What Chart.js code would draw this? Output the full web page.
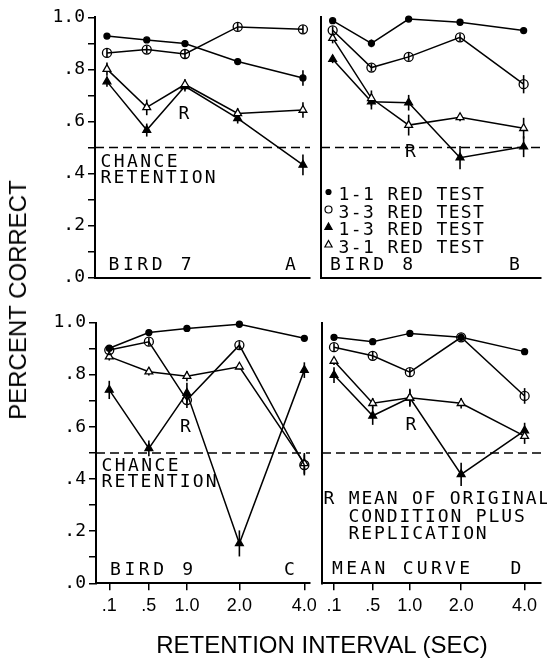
<!DOCTYPE html>
<html>
<head>
<meta charset="utf-8">
<script src="https://cdn.jsdelivr.net/npm/chart.js@4.4.1/dist/chart.umd.min.js"></script>
<style>
  body { margin: 0; background: #fff; }
  #fig { position: relative; width: 547px; height: 659px; overflow: hidden; }
  #fig canvas { position: absolute; left: 0; top: 0; }
  .title { position: absolute; font-family: 'Liberation Sans', Arial, sans-serif; font-size: 24px; color: #000; white-space: nowrap; line-height: 1; }
  #ytitle { left: 18px; top: 300px; transform: translate(-50%, -50%) rotate(-90deg); }
  #xtitle { left: 322px; top: 645px; transform: translate(-50%, -50%); }
</style>
</head>
<body>
<div id="fig">
  <canvas id="panelA" width="547" height="659"></canvas>
  <canvas id="panelB" width="547" height="659"></canvas>
  <canvas id="panelC" width="547" height="659"></canvas>
  <canvas id="panelD" width="547" height="659"></canvas>
  <div id="ytitle" class="title">PERCENT CORRECT</div>
  <div id="xtitle" class="title">RETENTION INTERVAL (SEC)</div>
</div>
<script>
// retention intervals (tick labels) and percent-correct ticks
const INTERVALS = ['.1', '.5', '1.0', '2.0', '4.0'];
const Y_LABELS = ['.0', '.2', '.4', '.6', '.8', '1.0'];
const CHANCE = 0.5;
const LEGEND_NAMES = ['1-1 RED TEST', '3-3 RED TEST', '1-3 RED TEST', '3-1 RED TEST'];

// bird 7 (panel A)
const bird7_11 = [0.928, 0.913, 0.899, 0.830, 0.767];
const bird7_33 = [0.863, 0.876, 0.859, 0.963, 0.954];
const bird7_13 = [0.753, 0.567, 0.735, 0.612, 0.433];
const bird7_31 = [0.801, 0.654, 0.742, 0.631, 0.644];
const bird7_11_err = [0, 0, 0, 0, 0.03];
const bird7_33_err = [0.015, 0.015, 0.015, 0.015, 0.015];
const bird7_13_err = [0.02, 0.025, 0.02, 0.02, 0.04];
const bird7_31_err = [0.025, 0.03, 0.02, 0.02, 0.03];

// bird 8 (panel B)
const bird8_11 = [0.987, 0.900, 0.993, 0.981, 0.949];
const bird8_33 = [0.950, 0.807, 0.848, 0.923, 0.743];
const bird8_13 = [0.839, 0.676, 0.672, 0.461, 0.503];
const bird8_31 = [0.920, 0.689, 0.586, 0.616, 0.574];
const bird8_11_err = [0, 0.015, 0, 0, 0];
const bird8_33_err = [0.015, 0.015, 0.015, 0.015, 0.035];
const bird8_13_err = [0.015, 0.03, 0.03, 0.045, 0.04];
const bird8_31_err = [0.02, 0.03, 0.04, 0.015, 0.04];

// bird 9 (panel C)
const bird9_11 = [0.902, 0.962, 0.978, 0.994, 0.940];
const bird9_33 = [0.895, 0.927, 0.703, 0.914, 0.454];
const bird9_13 = [0.742, 0.518, 0.730, 0.153, 0.818];
const bird9_31 = [0.870, 0.812, 0.795, 0.831, 0.460];
const bird9_11_err = [0, 0, 0, 0, 0];
const bird9_33_err = [0.015, 0.015, 0.03, 0.015, 0.04];
const bird9_13_err = [0.035, 0.03, 0.04, 0.05, 0.03];
const bird9_31_err = [0.015, 0.015, 0.02, 0.01, 0.04];

// mean curve (panel D)
const mean_11 = [0.944, 0.927, 0.959, 0.944, 0.889];
const mean_33 = [0.906, 0.873, 0.810, 0.944, 0.719];
const mean_13 = [0.799, 0.643, 0.712, 0.418, 0.586];
const mean_31 = [0.853, 0.691, 0.712, 0.691, 0.565];
const mean_11_err = [0, 0, 0, 0, 0];
const mean_33_err = [0.015, 0.015, 0.015, 0.015, 0.03];
const mean_13_err = [0.03, 0.035, 0.035, 0.045, 0.03];
const mean_31_err = [0.015, 0.02, 0.03, 0.02, 0.03];

// layout: where each interval sits along the (non-uniform) x axis, 0..1
const AXIS_POS = [0, 0.203, 0.398, 0.667, 1];
const Y_STEPS = Array.from({ length: 11 }, (_, i) => i / 10);
const W = 547, H = 659;
const X_LABEL_BAND = 40;
const TEXT_FONT = '18px "DejaVu Sans Mono", monospace';

const STYLES = {
  s11: { pointStyle: 'circle', pointRadius: 3, pointBackgroundColor: '#000' },
  s33: { pointStyle: 'circle', pointRadius: 4.5, pointBackgroundColor: 'rgba(0,0,0,0)' },
  s13: { pointStyle: 'triangle', pointRadius: 4.5, pointBackgroundColor: '#000' },
  s31: { pointStyle: 'triangle', pointRadius: 4.5, pointBackgroundColor: '#fff' }
};

function series(values, errors, style) {
  return Object.assign({
    data: values.map((v, i) => ({ x: AXIS_POS[i], y: v })),
    errors: errors,
    borderColor: '#000',
    borderWidth: 1.5,
    pointBorderColor: '#000',
    pointBorderWidth: 1.3,
    showLine: true,
    tension: 0,
    clip: false
  }, style);
}

function drawMarker(ctx, style, x, y) {
  ctx.beginPath();
  if (style === 'dot') {
    ctx.arc(x, y, 2.5, 0, Math.PI * 2);
  } else if (style === 'ring') {
    ctx.arc(x, y, 3.5, 0, Math.PI * 2);
  } else {
    ctx.moveTo(x, y - 4);
    ctx.lineTo(x + 3.6, y + 2.5);
    ctx.lineTo(x - 3.6, y + 2.5);
    ctx.closePath();
  }
  ctx.fillStyle = (style === 'dot' || style === 'tri') ? '#000' : '#fff';
  ctx.fill();
  ctx.lineWidth = 1.2;
  ctx.stroke();
}

const decor = {
  id: 'decor',
  beforeDatasetsDraw(chart) {
    const { ctx, chartArea, scales: { x, y } } = chart;
    ctx.save();
    ctx.strokeStyle = '#000';
    ctx.lineWidth = 1.6;
    ctx.setLineDash([9, 5]);
    const yc = y.getPixelForValue(CHANCE);
    ctx.beginPath();
    ctx.moveTo(chartArea.left, yc);
    ctx.lineTo(chartArea.right, yc);
    ctx.stroke();
    ctx.setLineDash([]);
    ctx.lineWidth = 1.6;
    chart.data.datasets.forEach(ds => {
      ds.data.forEach((p, i) => {
        const e = ds.errors[i];
        if (!e) return;
        const px = x.getPixelForValue(p.x);
        ctx.beginPath();
        ctx.moveTo(px, y.getPixelForValue(p.y - e));
        ctx.lineTo(px, y.getPixelForValue(p.y + e));
        ctx.stroke();
      });
    });
    ctx.restore();
  },
  afterDatasetsDraw(chart, args, opts) {
    const { ctx } = chart;
    ctx.save();
    ctx.fillStyle = '#000';
    ctx.strokeStyle = '#000';
    ctx.textAlign = 'left';
    ctx.textBaseline = 'alphabetic';
    ctx.font = TEXT_FONT;
    (opts.texts || []).forEach(t => {
      ctx.letterSpacing = (t.ls || 0) + 'px';
      ctx.fillStyle = '#000';
      ctx.fillText(t.text, t.x, t.y);
    });
    if (opts.legend) {
      const lg = opts.legend;
      const marks = ['dot', 'ring', 'tri', 'open'];
      LEGEND_NAMES.forEach((name, i) => {
        const by = lg.y + i * lg.step;
        drawMarker(ctx, marks[i], lg.markX, by - 8);
        ctx.letterSpacing = lg.ls + 'px';
        ctx.fillStyle = '#000';
        ctx.fillText(name, lg.x, by);
      });
    }
    ctx.restore();
  }
};

function yScale(showTicks, boxWidth) {
  return {
    type: 'linear', min: 0, max: 1,
    afterFit: s => { s.width = boxWidth; },
    afterBuildTicks: s => { s.ticks = Y_STEPS.map(v => ({ value: v })); },
    ticks: {
      display: showTicks, autoSkip: false, color: '#000', padding: 3,
      font: { family: 'DejaVu Sans Mono', size: 18 },
      callback: (v, i) => (i % 2 ? '' : Y_LABELS[i / 2])
    },
    grid: { display: showTicks, drawOnChartArea: false, drawTicks: true, tickLength: 7, color: '#000', lineWidth: 1.5 },
    border: { display: true, color: '#000', width: 2 }
  };
}

function xScale(min, max, showTicks) {
  return {
    type: 'linear', min: min, max: max,
    afterFit: s => { s.height = showTicks ? X_LABEL_BAND : 0; },
    afterBuildTicks: s => { s.ticks = AXIS_POS.map(v => ({ value: v })); },
    ticks: {
      display: showTicks, autoSkip: false, maxRotation: 0, color: '#000', padding: 5,
      font: { family: 'Liberation Sans', size: 18 },
      callback: (v, i) => INTERVALS[i]
    },
    grid: { display: showTicks, drawOnChartArea: false, drawTicks: true, tickLength: 7, color: '#000', lineWidth: 1.5 },
    border: { display: true, color: '#000', width: 2 }
  };
}

function panel(id, area, xRange, leftTicks, bottomTicks, datasets, decorOpts) {
  const band = bottomTicks ? X_LABEL_BAND : 0;
  new Chart(document.getElementById(id), {
    type: 'line',
    data: { datasets: datasets },
    options: {
      responsive: false,
      animation: false,
      devicePixelRatio: 1,
      events: [],
      layout: { padding: { left: 0, top: area[1], right: W - area[2], bottom: H - area[3] - band } },
      scales: { x: xScale(xRange[0], xRange[1], bottomTicks), y: yScale(leftTicks, area[0]) },
      plugins: { legend: { display: false }, tooltip: { enabled: false }, decor: decorOpts }
    },
    plugins: [decor]
  });
}

panel('panelA', [95, 17.3, 310, 277.7], [-0.061, 1.036], true, false, [
  series(bird7_33, bird7_33_err, STYLES.s33),
  series(bird7_11, bird7_11_err, STYLES.s11),
  series(bird7_31, bird7_31_err, STYLES.s31),
  series(bird7_13, bird7_13_err, STYLES.s13)
], {
  texts: [
    { text: 'CHANCE', x: 100.5, y: 166.5, ls: 2.4 },
    { text: 'RETENTION', x: 100.5, y: 182.5, ls: 2.2 },
    { text: 'BIRD 7', x: 108.5, y: 270, ls: 3.6 },
    { text: 'A', x: 285, y: 270 },
    { text: 'R', x: 178.5, y: 119 }
  ]
});

panel('panelB', [321, 17.3, 547, 277.7], [-0.061, 1.092], false, false, [
  series(bird8_33, bird8_33_err, STYLES.s33),
  series(bird8_11, bird8_11_err, STYLES.s11),
  series(bird8_31, bird8_31_err, STYLES.s31),
  series(bird8_13, bird8_13_err, STYLES.s13)
], {
  texts: [
    { text: 'BIRD 8', x: 330, y: 269.5, ls: 3.6 },
    { text: 'B', x: 509, y: 269.5 },
    { text: 'R', x: 405, y: 156.5 }
  ],
  legend: { x: 338.5, y: 200, step: 17.5, ls: 1.4, markX: 328.5 }
});

panel('panelC', [96, 322.7, 310, 583.3], [-0.068, 1.029], true, true, [
  series(bird9_33, bird9_33_err, STYLES.s33),
  series(bird9_11, bird9_11_err, STYLES.s11),
  series(bird9_31, bird9_31_err, STYLES.s31),
  series(bird9_13, bird9_13_err, STYLES.s13)
], {
  texts: [
    { text: 'CHANCE', x: 101.5, y: 470.5, ls: 2.4 },
    { text: 'RETENTION', x: 101.5, y: 486.5, ls: 2.2 },
    { text: 'BIRD 9', x: 110, y: 575, ls: 3.6 },
    { text: 'C', x: 284, y: 575 },
    { text: 'R', x: 180, y: 431.5 }
  ]
});

panel('panelD', [322, 322.7, 547, 583.3], [-0.063, 1.087], false, true, [
  series(mean_33, mean_33_err, STYLES.s33),
  series(mean_11, mean_11_err, STYLES.s11),
  series(mean_31, mean_31_err, STYLES.s31),
  series(mean_13, mean_13_err, STYLES.s13)
], {
  texts: [
    { text: 'R MEAN OF ORIGINAL', x: 323.5, y: 504, ls: 1.8 },
    { text: 'CONDITION PLUS', x: 348.5, y: 521.5, ls: 1.9 },
    { text: 'REPLICATION', x: 348.5, y: 538.5, ls: 1.9 },
    { text: 'MEAN CURVE', x: 332, y: 574, ls: 3.3 },
    { text: 'D', x: 510.5, y: 574 },
    { text: 'R', x: 405.5, y: 430 }
  ]
});
</script>
</body>
</html>
